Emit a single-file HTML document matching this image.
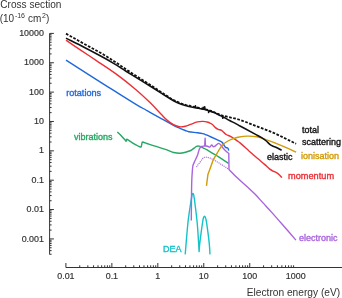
<!DOCTYPE html>
<html><head><meta charset="utf-8"><style>
html,body{margin:0;padding:0;background:#fff;}
svg{display:block;font-family:"Liberation Sans",sans-serif;will-change:transform;}

</style></head><body>
<svg width="342" height="298" viewBox="0 0 342 298">
<rect width="342" height="298" fill="#fff"/>
<g stroke="#333" stroke-width="1" fill="none"><line x1="49.6" y1="33.4" x2="49.6" y2="254.4" /><line x1="49.6" y1="254.27" x2="51.60" y2="254.27" /><line x1="49.6" y1="250.60" x2="51.60" y2="250.60" /><line x1="49.6" y1="247.76" x2="51.60" y2="247.76" /><line x1="49.6" y1="245.43" x2="51.60" y2="245.43" /><line x1="49.6" y1="243.47" x2="51.60" y2="243.47" /><line x1="49.6" y1="241.77" x2="51.60" y2="241.77" /><line x1="49.6" y1="240.26" x2="51.60" y2="240.26" /><line x1="49.6" y1="238.92" x2="53.90" y2="238.92" /><line x1="49.6" y1="230.08" x2="51.60" y2="230.08" /><line x1="49.6" y1="224.91" x2="51.60" y2="224.91" /><line x1="49.6" y1="221.24" x2="51.60" y2="221.24" /><line x1="49.6" y1="218.40" x2="51.60" y2="218.40" /><line x1="49.6" y1="216.07" x2="51.60" y2="216.07" /><line x1="49.6" y1="214.11" x2="51.60" y2="214.11" /><line x1="49.6" y1="212.41" x2="51.60" y2="212.41" /><line x1="49.6" y1="210.90" x2="51.60" y2="210.90" /><line x1="49.6" y1="209.56" x2="53.90" y2="209.56" /><line x1="49.6" y1="200.72" x2="51.60" y2="200.72" /><line x1="49.6" y1="195.55" x2="51.60" y2="195.55" /><line x1="49.6" y1="191.88" x2="51.60" y2="191.88" /><line x1="49.6" y1="189.04" x2="51.60" y2="189.04" /><line x1="49.6" y1="186.71" x2="51.60" y2="186.71" /><line x1="49.6" y1="184.75" x2="51.60" y2="184.75" /><line x1="49.6" y1="183.05" x2="51.60" y2="183.05" /><line x1="49.6" y1="181.54" x2="51.60" y2="181.54" /><line x1="49.6" y1="180.20" x2="53.90" y2="180.20" /><line x1="49.6" y1="171.36" x2="51.60" y2="171.36" /><line x1="49.6" y1="166.19" x2="51.60" y2="166.19" /><line x1="49.6" y1="162.52" x2="51.60" y2="162.52" /><line x1="49.6" y1="159.68" x2="51.60" y2="159.68" /><line x1="49.6" y1="157.35" x2="51.60" y2="157.35" /><line x1="49.6" y1="155.39" x2="51.60" y2="155.39" /><line x1="49.6" y1="153.69" x2="51.60" y2="153.69" /><line x1="49.6" y1="152.18" x2="51.60" y2="152.18" /><line x1="49.6" y1="150.84" x2="53.90" y2="150.84" /><line x1="49.6" y1="142.00" x2="51.60" y2="142.00" /><line x1="49.6" y1="136.83" x2="51.60" y2="136.83" /><line x1="49.6" y1="133.16" x2="51.60" y2="133.16" /><line x1="49.6" y1="130.32" x2="51.60" y2="130.32" /><line x1="49.6" y1="127.99" x2="51.60" y2="127.99" /><line x1="49.6" y1="126.03" x2="51.60" y2="126.03" /><line x1="49.6" y1="124.33" x2="51.60" y2="124.33" /><line x1="49.6" y1="122.82" x2="51.60" y2="122.82" /><line x1="49.6" y1="121.48" x2="53.90" y2="121.48" /><line x1="49.6" y1="112.64" x2="51.60" y2="112.64" /><line x1="49.6" y1="107.47" x2="51.60" y2="107.47" /><line x1="49.6" y1="103.80" x2="51.60" y2="103.80" /><line x1="49.6" y1="100.96" x2="51.60" y2="100.96" /><line x1="49.6" y1="98.63" x2="51.60" y2="98.63" /><line x1="49.6" y1="96.67" x2="51.60" y2="96.67" /><line x1="49.6" y1="94.97" x2="51.60" y2="94.97" /><line x1="49.6" y1="93.46" x2="51.60" y2="93.46" /><line x1="49.6" y1="92.12" x2="53.90" y2="92.12" /><line x1="49.6" y1="83.28" x2="51.60" y2="83.28" /><line x1="49.6" y1="78.11" x2="51.60" y2="78.11" /><line x1="49.6" y1="74.44" x2="51.60" y2="74.44" /><line x1="49.6" y1="71.60" x2="51.60" y2="71.60" /><line x1="49.6" y1="69.27" x2="51.60" y2="69.27" /><line x1="49.6" y1="67.31" x2="51.60" y2="67.31" /><line x1="49.6" y1="65.61" x2="51.60" y2="65.61" /><line x1="49.6" y1="64.10" x2="51.60" y2="64.10" /><line x1="49.6" y1="62.76" x2="53.90" y2="62.76" /><line x1="49.6" y1="53.92" x2="51.60" y2="53.92" /><line x1="49.6" y1="48.75" x2="51.60" y2="48.75" /><line x1="49.6" y1="45.08" x2="51.60" y2="45.08" /><line x1="49.6" y1="42.24" x2="51.60" y2="42.24" /><line x1="49.6" y1="39.91" x2="51.60" y2="39.91" /><line x1="49.6" y1="37.95" x2="51.60" y2="37.95" /><line x1="49.6" y1="36.25" x2="51.60" y2="36.25" /><line x1="49.6" y1="34.74" x2="51.60" y2="34.74" /><line x1="49.6" y1="33.40" x2="53.90" y2="33.40" /><line x1="65.9" y1="267.5" x2="342" y2="267.5" stroke-width="1.1"/><line x1="65.90" y1="267.5" x2="65.90" y2="263.00" /><line x1="79.74" y1="267.5" x2="79.74" y2="265.30" /><line x1="87.83" y1="267.5" x2="87.83" y2="265.30" /><line x1="93.57" y1="267.5" x2="93.57" y2="265.30" /><line x1="98.02" y1="267.5" x2="98.02" y2="265.30" /><line x1="101.66" y1="267.5" x2="101.66" y2="265.30" /><line x1="104.74" y1="267.5" x2="104.74" y2="265.30" /><line x1="107.41" y1="267.5" x2="107.41" y2="265.30" /><line x1="109.76" y1="267.5" x2="109.76" y2="265.30" /><line x1="111.86" y1="267.5" x2="111.86" y2="263.00" /><line x1="125.70" y1="267.5" x2="125.70" y2="265.30" /><line x1="133.79" y1="267.5" x2="133.79" y2="265.30" /><line x1="139.53" y1="267.5" x2="139.53" y2="265.30" /><line x1="143.98" y1="267.5" x2="143.98" y2="265.30" /><line x1="147.62" y1="267.5" x2="147.62" y2="265.30" /><line x1="150.70" y1="267.5" x2="150.70" y2="265.30" /><line x1="153.37" y1="267.5" x2="153.37" y2="265.30" /><line x1="155.72" y1="267.5" x2="155.72" y2="265.30" /><line x1="157.82" y1="267.5" x2="157.82" y2="263.00" /><line x1="171.66" y1="267.5" x2="171.66" y2="265.30" /><line x1="179.75" y1="267.5" x2="179.75" y2="265.30" /><line x1="185.49" y1="267.5" x2="185.49" y2="265.30" /><line x1="189.94" y1="267.5" x2="189.94" y2="265.30" /><line x1="193.58" y1="267.5" x2="193.58" y2="265.30" /><line x1="196.66" y1="267.5" x2="196.66" y2="265.30" /><line x1="199.33" y1="267.5" x2="199.33" y2="265.30" /><line x1="201.68" y1="267.5" x2="201.68" y2="265.30" /><line x1="203.78" y1="267.5" x2="203.78" y2="263.00" /><line x1="217.62" y1="267.5" x2="217.62" y2="265.30" /><line x1="225.71" y1="267.5" x2="225.71" y2="265.30" /><line x1="231.45" y1="267.5" x2="231.45" y2="265.30" /><line x1="235.90" y1="267.5" x2="235.90" y2="265.30" /><line x1="239.54" y1="267.5" x2="239.54" y2="265.30" /><line x1="242.62" y1="267.5" x2="242.62" y2="265.30" /><line x1="245.29" y1="267.5" x2="245.29" y2="265.30" /><line x1="247.64" y1="267.5" x2="247.64" y2="265.30" /><line x1="249.74" y1="267.5" x2="249.74" y2="263.00" /><line x1="263.58" y1="267.5" x2="263.58" y2="265.30" /><line x1="271.67" y1="267.5" x2="271.67" y2="265.30" /><line x1="277.41" y1="267.5" x2="277.41" y2="265.30" /><line x1="281.86" y1="267.5" x2="281.86" y2="265.30" /><line x1="285.50" y1="267.5" x2="285.50" y2="265.30" /><line x1="288.58" y1="267.5" x2="288.58" y2="265.30" /><line x1="291.25" y1="267.5" x2="291.25" y2="265.30" /><line x1="293.60" y1="267.5" x2="293.60" y2="265.30" /></g>
<g fill="#333" stroke="#333" stroke-width="0.2"><text x="43.9" y="36.0" text-anchor="end" font-size="9.7" textLength="24.74" lengthAdjust="spacingAndGlyphs">10000</text><text x="43.9" y="65.4" text-anchor="end" font-size="9.7" textLength="19.79" lengthAdjust="spacingAndGlyphs">1000</text><text x="43.9" y="94.7" text-anchor="end" font-size="9.7" textLength="14.85" lengthAdjust="spacingAndGlyphs">100</text><text x="43.9" y="124.1" text-anchor="end" font-size="9.7" textLength="9.90" lengthAdjust="spacingAndGlyphs">10</text><text x="43.9" y="153.4" text-anchor="end" font-size="9.7" textLength="4.95" lengthAdjust="spacingAndGlyphs">1</text><text x="43.9" y="182.8" text-anchor="end" font-size="9.7" textLength="12.37" lengthAdjust="spacingAndGlyphs">0.1</text><text x="43.9" y="212.2" text-anchor="end" font-size="9.7" textLength="17.32" lengthAdjust="spacingAndGlyphs">0.01</text><text x="43.9" y="241.5" text-anchor="end" font-size="9.7" textLength="22.27" lengthAdjust="spacingAndGlyphs">0.001</text><text x="65.9" y="279.3" text-anchor="middle" font-size="9.7" textLength="17.32" lengthAdjust="spacingAndGlyphs">0.01</text><text x="111.9" y="279.3" text-anchor="middle" font-size="9.7" textLength="12.37" lengthAdjust="spacingAndGlyphs">0.1</text><text x="157.8" y="279.3" text-anchor="middle" font-size="9.7" textLength="4.95" lengthAdjust="spacingAndGlyphs">1</text><text x="203.8" y="279.3" text-anchor="middle" font-size="9.7" textLength="9.90" lengthAdjust="spacingAndGlyphs">10</text><text x="249.7" y="279.3" text-anchor="middle" font-size="9.7" textLength="14.85" lengthAdjust="spacingAndGlyphs">100</text><text x="295.7" y="279.3" text-anchor="middle" font-size="9.7" textLength="19.79" lengthAdjust="spacingAndGlyphs">1000</text></g>
<path d="M66.00,60.20 C70.03,62.73 74.08,65.25 78.10,67.80 C85.41,72.45 92.69,77.15 100.00,81.80 C103.32,83.92 106.66,86.01 110.00,88.10 C119.33,93.94 128.60,99.87 138.00,105.60 C140.57,107.17 143.27,108.53 145.90,110.00 C147.27,110.76 148.63,111.54 150.00,112.30 C153.90,114.47 157.80,116.64 161.70,118.80 C165.63,120.97 169.51,123.23 173.50,125.30 C175.62,126.40 177.82,127.34 180.00,128.30 C181.75,129.07 183.52,129.79 185.30,130.50 C186.46,130.96 187.58,131.58 188.80,131.80 C191.67,132.32 194.61,132.33 197.50,132.70 C199.28,132.93 201.06,133.17 202.80,133.60 C204.01,133.90 205.15,134.44 206.30,134.90 C207.55,135.40 208.77,135.95 210.00,136.50 C212.27,137.52 214.54,138.55 216.80,139.60 C217.91,140.12 219.01,140.65 220.10,141.20 C220.67,141.49 221.30,141.69 221.80,142.10 C222.42,142.61 222.95,143.24 223.40,143.90 C223.82,144.52 223.97,145.29 224.40,145.90 C224.85,146.54 225.35,147.17 226.00,147.60 C226.40,147.86 226.97,147.69 227.40,147.90 C227.74,148.07 227.93,148.43 228.20,148.70 L228.70,150.70" fill="none" stroke="#1f68dc" stroke-width="1.4" stroke-linejoin="round" stroke-linecap="butt" /><path d="M117.30,132.00 C118.20,132.83 119.12,133.64 120.00,134.50 C120.72,135.21 121.41,135.96 122.10,136.70 C122.81,137.46 123.51,138.22 124.20,139.00 C124.84,139.72 125.47,140.47 126.10,141.20 L126.80,139.20 C127.37,139.53 127.94,139.85 128.50,140.20 C130.38,141.38 132.21,142.64 134.10,143.80 C135.37,144.58 136.68,145.31 138.00,146.00 C138.71,146.37 139.42,146.78 140.20,147.00 C140.52,147.09 140.87,146.93 141.20,146.90 L142.20,142.10 C142.37,142.07 142.54,141.95 142.70,142.00 C144.76,142.66 146.75,143.52 148.80,144.20 C151.68,145.15 154.60,145.99 157.50,146.90 C160.44,147.82 163.39,148.69 166.30,149.70 C168.76,150.56 171.08,151.85 173.60,152.50 C175.75,153.06 177.98,153.34 180.20,153.30 C181.93,153.27 183.63,152.74 185.30,152.30 C187.17,151.81 189.06,151.33 190.80,150.50 C192.03,149.91 193.01,148.91 194.10,148.10 C194.91,147.51 195.58,146.68 196.50,146.30 C197.24,145.99 198.11,145.96 198.90,146.10 C200.02,146.30 201.06,146.83 202.10,147.30 C203.47,147.93 204.78,148.68 206.10,149.40 C207.21,150.01 208.30,150.66 209.40,151.30 C211.27,152.39 213.14,153.48 215.00,154.60 C216.24,155.35 217.49,156.10 218.70,156.90 C221.99,159.07 225.23,161.30 228.50,163.50" fill="none" stroke="#24a862" stroke-width="1.4" stroke-linejoin="round" stroke-linecap="butt" /><path d="M66.00,40.20 C71.00,43.57 75.99,46.94 81.00,50.30 C85.99,53.64 91.02,56.94 96.00,60.30 C102.68,64.81 109.50,69.13 116.00,73.90 C122.85,78.93 129.51,84.22 136.00,89.70 C140.85,93.79 145.46,98.17 150.00,102.60 C154.03,106.54 157.76,110.77 161.70,114.80 C163.63,116.77 165.49,118.83 167.60,120.60 C169.43,122.14 171.38,123.59 173.50,124.70 C175.35,125.67 177.33,126.52 179.40,126.80 C181.36,127.07 183.37,126.72 185.30,126.30 C187.10,125.91 188.76,125.03 190.50,124.40 C192.83,123.56 195.09,122.49 197.50,121.90 C199.22,121.48 201.03,121.35 202.80,121.40 C204.59,121.45 206.36,121.79 208.10,122.20 C208.78,122.36 209.38,122.77 210.00,123.10 C210.82,123.54 211.69,123.91 212.40,124.50 C213.50,125.42 214.29,126.68 215.40,127.60 C216.24,128.30 217.21,128.84 218.20,129.30 C219.25,129.78 220.50,129.81 221.50,130.40 C222.58,131.04 223.36,132.08 224.30,132.90 C224.92,133.44 225.48,134.09 226.20,134.50 C227.53,135.26 229.04,135.68 230.40,136.40 C231.68,137.08 232.89,137.90 234.10,138.70 C235.42,139.57 236.71,140.48 238.00,141.40 C238.68,141.88 239.37,142.36 240.00,142.90 C243.04,145.52 245.99,148.24 249.00,150.90 C251.99,153.54 254.98,156.19 258.00,158.80 C260.18,160.69 262.43,162.50 264.60,164.40 C266.27,165.86 267.78,167.50 269.50,168.90 C270.42,169.65 271.46,170.24 272.50,170.80 C273.80,171.50 275.23,171.94 276.50,172.70 C277.58,173.35 278.57,174.15 279.50,175.00 C280.37,175.79 281.10,176.73 281.90,177.60" fill="none" stroke="#ec2f35" stroke-width="1.4" stroke-linejoin="round" stroke-linecap="butt" /><path d="M185.20,254.40 C186.07,244.27 186.82,234.12 187.80,224.00 C188.18,220.05 188.75,216.13 189.30,212.20 C189.82,208.46 190.41,204.73 191.00,201.00 C191.21,199.66 191.44,198.33 191.70,197.00 C191.87,196.13 192.02,195.24 192.30,194.40 C192.42,194.03 192.51,193.43 192.90,193.40 C193.26,193.37 193.38,193.96 193.50,194.30 C193.76,195.04 193.87,195.83 194.00,196.60 C194.23,197.93 194.43,199.26 194.60,200.60 C195.09,204.40 195.56,208.20 196.00,212.00 C196.46,216.00 196.95,219.99 197.30,224.00 C197.71,228.66 198.00,233.33 198.30,238.00 C198.60,242.53 198.83,247.07 199.10,251.60 C199.30,249.07 199.43,246.53 199.70,244.00 C200.13,240.06 200.67,236.13 201.20,232.20 C201.70,228.46 202.21,224.72 202.80,221.00 C202.97,219.92 203.14,218.83 203.50,217.80 C203.71,217.21 203.87,216.20 204.50,216.20 C205.13,216.20 205.27,217.21 205.50,217.80 C205.88,218.76 206.13,219.78 206.30,220.80 C206.93,224.59 207.41,228.39 207.90,232.20 C208.41,236.13 208.93,240.06 209.30,244.00 C209.63,247.46 209.77,250.93 210.00,254.40" fill="none" stroke="#14c3c8" stroke-width="1.4" stroke-linejoin="round" stroke-linecap="butt" /><path d="M191.30,220.50 C191.37,212.00 191.40,203.50 191.50,195.00 C191.56,190.00 191.62,185.00 191.80,180.00 C191.92,176.70 192.15,173.40 192.40,170.10 C192.51,168.60 192.73,167.10 192.90,165.60 C193.30,164.60 193.67,163.59 194.10,162.60 C194.70,161.22 195.37,159.87 196.00,158.50 C196.54,157.33 197.15,156.20 197.60,155.00 C198.02,153.86 198.24,152.66 198.60,151.50 C198.94,150.42 199.16,149.29 199.70,148.30 C200.08,147.59 200.57,146.84 201.30,146.50 C202.34,146.02 203.57,146.17 204.70,146.00 L205.10,138.20 L205.50,146.00 C206.17,146.07 206.85,146.03 207.50,146.20 C208.30,146.40 209.01,147.33 209.80,147.10 C210.71,146.84 210.77,145.14 211.70,145.00 C212.40,144.89 212.43,146.36 213.10,146.60 C213.71,146.82 214.44,146.52 215.00,146.20 C215.72,145.79 216.14,145.00 216.80,144.50 C217.38,144.06 217.97,143.34 218.70,143.40 C219.48,143.46 220.07,144.22 220.60,144.80 C221.65,145.94 222.39,147.33 223.40,148.50 C224.26,149.50 225.24,150.39 226.20,151.30 C227.04,152.09 227.93,152.83 228.80,153.60 L229.00,169.40 C231.57,172.03 234.04,174.76 236.70,177.30 C240.21,180.66 243.93,183.80 247.50,187.10 C249.99,189.40 252.52,191.68 254.90,194.10 C257.69,196.95 260.30,199.97 263.00,202.90 C265.83,205.97 268.71,208.99 271.50,212.10 C275.61,216.69 279.65,221.35 283.70,226.00 C287.78,230.69 291.83,235.40 295.90,240.10" fill="none" stroke="#a964de" stroke-width="1.4" stroke-linejoin="round" stroke-linecap="butt" /><path d="M196.70,166.60 C197.87,165.03 199.00,163.44 200.20,161.90 C201.33,160.44 202.16,158.61 203.70,157.60 C204.68,156.96 206.04,157.17 207.20,157.30 C208.42,157.44 209.58,157.92 210.70,158.40 C212.32,159.09 213.87,159.94 215.40,160.80 C217.00,161.70 218.54,162.73 220.10,163.70 C221.64,164.66 223.18,165.62 224.70,166.60 C225.91,167.38 227.10,168.20 228.30,169.00" fill="none" stroke="#a868dc" stroke-width="1.3" stroke-linejoin="round" stroke-linecap="round" stroke-dasharray="0.01 2.0"/><path d="M206.50,185.80 C206.73,183.87 206.95,181.93 207.20,180.00 C207.45,178.03 207.73,176.07 208.00,174.10 C208.53,172.73 209.08,171.37 209.60,170.00 C210.18,168.44 210.74,166.87 211.30,165.30 C211.91,163.60 212.41,161.87 213.10,160.20 C213.45,159.36 213.95,158.59 214.40,157.80 C214.92,156.89 215.47,156.00 216.00,155.10 C216.84,153.67 217.60,152.19 218.50,150.80 C219.77,148.83 220.91,146.72 222.50,145.00 C223.81,143.59 225.46,142.52 227.10,141.50 C228.65,140.54 230.30,139.75 232.00,139.10 C233.95,138.35 235.95,137.70 238.00,137.30 C241.10,136.70 244.24,136.18 247.40,136.10 C250.54,136.02 253.71,136.22 256.80,136.80 C259.95,137.39 262.97,138.56 266.00,139.60 C269.37,140.76 272.69,142.08 276.00,143.40 C280.02,145.01 284.02,146.68 288.00,148.40 C290.72,149.58 293.40,150.87 296.10,152.10" fill="none" stroke="#d29a06" stroke-width="1.4" stroke-linejoin="round" stroke-linecap="butt" /><path d="M66.00,38.10 C72.00,41.13 78.03,44.11 84.00,47.20 C89.89,50.25 95.78,53.32 101.60,56.50 C105.78,58.78 109.92,61.14 114.00,63.60 C118.06,66.04 121.98,68.69 126.00,71.20 C129.99,73.69 134.00,76.13 138.00,78.60 C142.00,81.07 146.01,83.51 150.00,86.00 C154.02,88.51 157.98,91.09 162.00,93.60 C165.99,96.09 169.90,98.71 174.00,101.00 C175.94,102.08 178.03,102.89 180.10,103.70 C181.77,104.36 183.49,104.87 185.20,105.40 C186.62,105.84 188.07,106.20 189.50,106.60 L189.90,105.40 L190.40,106.80 L195.00,107.70 L195.40,105.90 L196.00,107.90 C197.53,108.17 199.07,108.43 200.60,108.70 C201.37,108.83 202.13,108.97 202.90,109.10 L203.20,107.40 L203.50,109.20 L204.40,109.40 L204.70,106.80 L205.00,109.60 L208.40,110.50 L208.60,112.40 L209.10,110.80 C210.77,111.40 212.47,111.92 214.10,112.60 C215.74,113.28 217.29,114.15 218.90,114.90 C220.06,115.45 221.23,115.97 222.40,116.50 L222.80,118.20 L223.40,117.00 C225.47,118.17 227.51,119.38 229.60,120.50 C231.61,121.58 233.68,122.53 235.70,123.60 C237.15,124.37 238.56,125.22 240.00,126.00 C245.19,128.82 250.40,131.61 255.60,134.40 C257.60,135.47 259.67,136.41 261.60,137.60 C263.25,138.62 264.80,139.77 266.30,141.00 C267.78,142.21 268.98,143.74 270.50,144.90 C271.30,145.52 272.28,145.88 273.20,146.30 C274.05,146.68 274.96,146.90 275.80,147.30 C277.77,148.24 279.67,149.30 281.60,150.30" fill="none" stroke="#111" stroke-width="1.6" stroke-linejoin="round" stroke-linecap="butt" /><path d="M66.00,33.60 C72.00,37.00 77.97,40.45 84.00,43.80 C89.84,47.05 95.82,50.05 101.60,53.40 C105.82,55.85 109.91,58.53 114.00,61.20 C118.04,63.83 121.98,66.63 126.00,69.30 C129.98,71.93 133.99,74.51 138.00,77.10 C141.99,79.68 146.01,82.22 150.00,84.80 C154.01,87.39 157.99,90.01 162.00,92.60 C165.99,95.18 169.78,98.12 174.00,100.30 C177.82,102.27 181.89,103.73 186.00,105.00 C189.92,106.21 194.00,106.78 198.00,107.70 C202.00,108.62 206.08,109.28 210.00,110.50 C212.77,111.36 215.31,112.83 218.00,113.90 C219.77,114.60 221.56,115.30 223.40,115.80 C228.90,117.30 234.56,118.19 240.00,119.90 C245.32,121.57 250.40,123.90 255.60,125.90 C261.40,128.13 267.32,130.09 273.00,132.60 C280.83,136.06 288.40,140.07 296.10,143.80" fill="none" stroke="#111" stroke-width="1.8" stroke-linejoin="round" stroke-linecap="butt" stroke-dasharray="2.7 1.5"/>
<text x="66.2" y="96.3" font-size="9.1" fill="#1f68dc" stroke="#1f68dc" stroke-width="0.35" text-anchor="start">rotations</text><text x="73.9" y="140.4" font-size="9" fill="#24a862" stroke="#24a862" stroke-width="0.35" text-anchor="start">vibrations</text><text x="301.9" y="133.4" font-size="9" fill="#111" stroke="#111" stroke-width="0.35" text-anchor="start">total</text><text x="301.9" y="144.6" font-size="9" fill="#111" stroke="#111" stroke-width="0.35" text-anchor="start">scattering</text><text x="301" y="158.8" font-size="9" fill="#d29a06" stroke="#d29a06" stroke-width="0.35" text-anchor="start">ionisation</text><text x="267" y="159.8" font-size="9" fill="#111" stroke="#111" stroke-width="0.35" text-anchor="start">elastic</text><text x="288.1" y="178.7" font-size="9.2" fill="#ec2f35" stroke="#ec2f35" stroke-width="0.35" text-anchor="start">momentum</text><text x="299.1" y="241.3" font-size="9" fill="#a964de" stroke="#a964de" stroke-width="0.35" text-anchor="start">electronic</text><text x="162.9" y="251.6" font-size="9" fill="#14c3c8" stroke="#14c3c8" stroke-width="0.35" text-anchor="start">DEA</text><g fill="#333"><text x="0.3" y="7.7" font-size="10.1">Cross section</text><text x="340.2" y="295.8" font-size="10.2" text-anchor="end">Electron energy (eV)</text><text x="-0.3" y="22.4" font-size="10">(10</text><text x="14.9" y="18.2" font-size="7">-16</text><text x="27.9" y="22.4" font-size="10">cm</text><text x="41.9" y="18.2" font-size="7">2</text><text x="45.9" y="22.4" font-size="10">)</text></g>
</svg></body></html>
